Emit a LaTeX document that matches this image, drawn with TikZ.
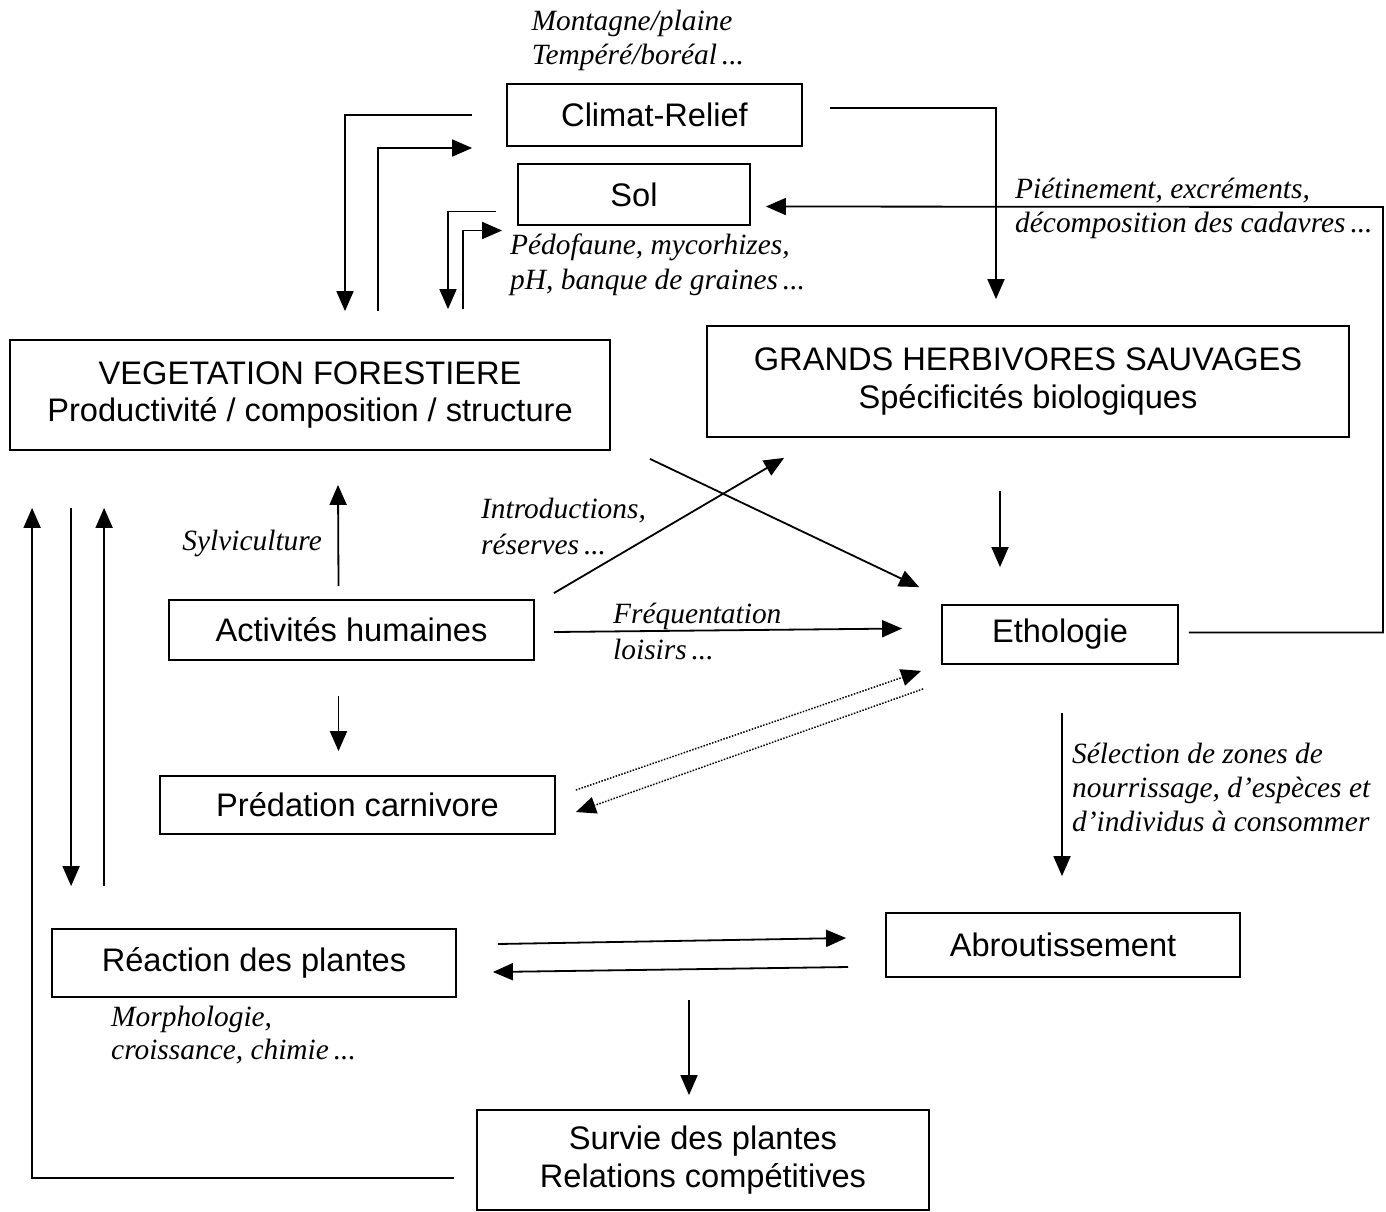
\documentclass[tikz,border=0pt]{standalone}
\usepackage{fontspec}
\setmainfont{Liberation Serif}
\newfontfamily\boxfont{Liberation Sans}
\usetikzlibrary{arrows.meta}
\begin{document}
\begin{tikzpicture}[x=1pt,y=-1pt,
  box/.style={draw,line width=1.8pt,inner sep=0pt,align=center,
    font=\boxfont\fontsize{32.6}{37.5}\selectfont},
  lab/.style={inner sep=0pt,font=\itshape\fontsize{29.4}{34}\selectfont},
  arr/.style={line width=1.8pt,-{Triangle[length=20pt,width=17pt]}},
  dotarr/.style={line width=1.5pt,dash pattern=on 1.5pt off 1.5pt,
    -{Triangle[length=20pt,width=17pt]}}]
\useasboundingbox (0,0) rectangle (1386,1211);
% boxes
\node[box,minimum width=295pt,minimum height=62pt] (clim) at (654.5,115) {Climat-Relief};
\node[box,minimum width=232pt,minimum height=61pt] (sol) at (634,194.5) {Sol};
\node[box,minimum width=600pt,minimum height=110pt] (veg) at (310,395) {VEGETATION FORESTIERE\\Productivité / composition / structure};
\node[box,minimum width=642pt,minimum height=111pt] (herb) at (1028,381.5) {GRANDS HERBIVORES SAUVAGES\\Spécificités biologiques};
\node[box,minimum width=365pt,minimum height=60pt] (act) at (351.5,630) {Activités humaines};
\node[box,minimum width=236pt,minimum height=59pt] (eth) at (1060,634.5) {Ethologie};
\node[box,minimum width=395pt,minimum height=58pt] (pred) at (357.5,805) {Prédation carnivore};
\node[box,minimum width=404pt,minimum height=68pt] (reac) at (254,963) {Réaction des plantes};
\node[box,minimum width=354pt,minimum height=64pt] (abr) at (1063,945) {Abroutissement};
\node[box,minimum width=452pt,minimum height=100pt] (surv) at (703,1160) {Survie des plantes\\Relations compétitives};
% italic labels
\node[lab,anchor=base] (l1a) at (632,30) {Montagne/plaine};
\node[lab,anchor=base] (l1b) at (638,64) {Tempéré/boréal\,...};
\node[lab,anchor=base west] (l2a) at (510,254) {Pédofaune, mycorhizes,};
\node[lab,anchor=base west] (l2b) at (510,289) {pH, banque de graines\,...};
\node[lab,anchor=base west] (l3a) at (1015,198) {Piétinement, excréments,};
\node[lab,anchor=base west] (l3b) at (1015,232) {décomposition des cadavres\,...};
\node[lab,anchor=base west] (l4a) at (481,518) {Introductions,};
\node[lab,anchor=base west] (l4b) at (481,554) {réserves\,...};
\node[lab,anchor=base east] (l5) at (322,550) {Sylviculture};
\node[lab,anchor=base west] (l6a) at (613,623) {Fréquentation};
\node[lab,anchor=base west] (l6b) at (613,659) {loisirs\,...};
\node[lab,anchor=base west] (l7a) at (1072,763) {Sélection de zones de};
\node[lab,anchor=base west] (l7b) at (1072,797) {nourrissage, d’espèces et};
\node[lab,anchor=base west] (l7c) at (1072,831) {d’individus à consommer};
\node[lab,anchor=base west] (l8a) at (111,1026) {Morphologie,};
\node[lab,anchor=base west] (l8b) at (111,1059) {croissance, chimie\,...};
% connectors
\draw[arr] ([shift={(-34,0)}]clim.west) -| ([shift={(35,-28)}]veg.north);
\draw[arr] ([shift={(68,-28)}]veg.north) |- ([shift={(-34,33)}]clim.west);
\draw[arr] ([shift={(-21,17)}]sol.west) -| ([shift={(138,-30)}]veg.north);
\draw[arr] ([shift={(153,-30)}]veg.north) |- ([shift={(-15,36)}]sol.west);
\draw[arr] ([shift={(27,-7)}]clim.east) -| ([shift={(-32,-26)}]herb.north);
\coordinate (rc) at (1383,207);
\draw[arr] ([shift={(10,-2)}]eth.east) -| (rc) -- ([shift={(15,12)}]sol.east);
\draw[arr] ([shift={(-28,53)}]herb.south) -- ([shift={(-60,-37)}]eth.north);
\draw[arr] ([shift={(340,8)}]veg.south) -- ([shift={(-22,-17)}]eth.north west);
\draw[arr] ([shift={(19,-6)}]act.north east) -- ([shift={(78,20)}]herb.south west);
\draw[arr] ([shift={(19,2)}]act.east) -- ([shift={(-39,-6)}]eth.west);
\draw[arr] ([shift={(-13,-13)}]act.north) -- ([shift={(28,34)}]veg.south);
\draw[arr] ([shift={(-13,35)}]act.south) -- ([shift={(-19,-24)}]pred.north);
\draw[dotarr] ([shift={(20,-15)}]pred.east) -- ([shift={(-20,6)}]eth.south west);
\draw[dotarr] ([shift={(-18,24)}]eth.south west) -- ([shift={(20,7)}]pred.east);
\draw[arr] ([shift={(2,48)}]eth.south) -- ([shift={(-1,-36)}]abr.north);
\draw[arr] ([shift={(41,-19)}]reac.east) -- ([shift={(-39,-7)}]abr.west);
\draw[arr] ([shift={(-37,22)}]abr.west) -- ([shift={(36,9)}]reac.east);
\coordinate (sv) at (689,1000);
\draw[arr] (sv) -- ([shift={(-14,-14)}]surv.north);
\draw[arr] ([shift={(-22,18)}]surv.west) -| ([shift={(23,57)}]veg.south west);
\draw[arr] ([shift={(62,57)}]veg.south west) -- ([shift={(20,-42)}]reac.north west);
\draw[arr] ([shift={(53,-42)}]reac.north west) -- ([shift={(95,57)}]veg.south west);
\end{tikzpicture}
\end{document}
